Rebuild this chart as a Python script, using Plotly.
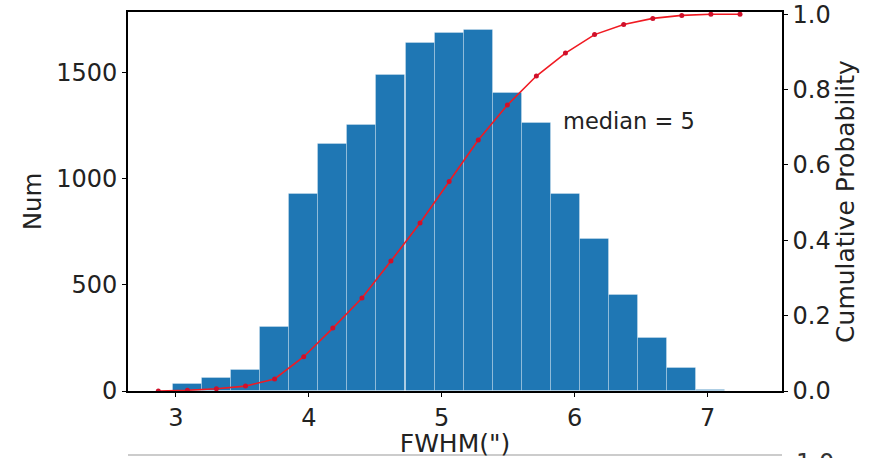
import plotly.graph_objects as go

# Histogram bins (centers), counts
bin_centers = [3.087, 3.305, 3.524, 3.743, 3.962, 4.181, 4.400, 4.618, 4.837, 5.056,
               5.275, 5.494, 5.712, 5.931, 6.150, 6.369, 6.588, 6.806, 7.025]
bin_width = 0.2188
counts = [33, 61, 99, 302, 928, 1164, 1254, 1489, 1640, 1687,
          1701, 1404, 1263, 928, 716, 452, 250, 108, 5]

# Cumulative probability points
cdf_x = [2.868, 3.087, 3.305, 3.524, 3.743, 3.962, 4.181, 4.400, 4.618, 4.837, 5.056,
         5.275, 5.494, 5.712, 5.931, 6.150, 6.369, 6.588, 6.806, 7.025, 7.244]
cdf_y = [0.0, 0.002, 0.006, 0.013, 0.032, 0.091, 0.167, 0.247, 0.345, 0.446, 0.556,
         0.666, 0.759, 0.836, 0.897, 0.946, 0.973, 0.989, 0.997, 1.0, 1.0]

x_ticks = [3, 4, 5, 6, 7]
y_ticks = [0, 500, 1000, 1500]
y2_ticks = [0.0, 0.2, 0.4, 0.6, 0.8, 1.0]

FONT = "DejaVu Sans"
fig = go.Figure()
fig.add_trace(go.Bar(
    x=bin_centers, y=counts, width=[bin_width] * len(counts),
    marker=dict(color="#1f77b4", line=dict(color="rgba(255,255,255,0.28)", width=1)),
    showlegend=False,
))
fig.add_trace(go.Scatter(
    x=cdf_x, y=cdf_y, yaxis="y2", mode="lines+markers",
    line=dict(color="#f01a22", width=1.6),
    marker=dict(color="#d0102a", size=5),
    showlegend=False,
))

fig.add_annotation(x=5.90, y=0.717, xref="x", yref="y2", text="median = 5",
                   showarrow=False, xanchor="left", yanchor="middle",
                   font=dict(family=FONT, size=22.5, color="#222"))

# top of the next (cropped) subplot
fig.add_shape(type="line", xref="paper", yref="paper", x0=0, x1=1,
              y0=-0.169, y1=-0.169, line=dict(color="#bbbbbb", width=1.5))
fig.add_annotation(x=1.018, y=-0.19, xref="paper", yref="paper", text="1.0",
                   showarrow=False, xanchor="left", yanchor="middle",
                   font=dict(family=FONT, size=24, color="#333"))

axis_common = dict(showline=True, linecolor="black", linewidth=1.6, ticks="outside",
                   ticklen=4, tickwidth=1.2, tickcolor="black", showgrid=False,
                   zeroline=False, automargin=False,
                   tickfont=dict(family=FONT, size=24, color="#222"))

fig.update_layout(
    width=872, height=458,
    margin=dict(l=128, r=90, t=12, b=67),
    paper_bgcolor="white", plot_bgcolor="white",
    bargap=0,
    xaxis=dict(range=[2.64, 7.56], tickvals=x_ticks, mirror=True,
               title=dict(text='FWHM(")', font=dict(family=FONT, size=25, color="#222"), standoff=3),
               **axis_common),
    yaxis=dict(range=[0, 1785], tickvals=y_ticks,
               title=dict(text="Num", font=dict(family=FONT, size=24.5, color="#222"), standoff=8),
               **axis_common),
    yaxis2=dict(range=[0, 1.006], tickvals=y2_ticks, tickformat=".1f", overlaying="y",
                side="right",
                title=dict(text="Cumulative Probability", font=dict(family=FONT, size=25, color="#222"), standoff=5),
                **axis_common),
)

fig.write_html("out.html")
